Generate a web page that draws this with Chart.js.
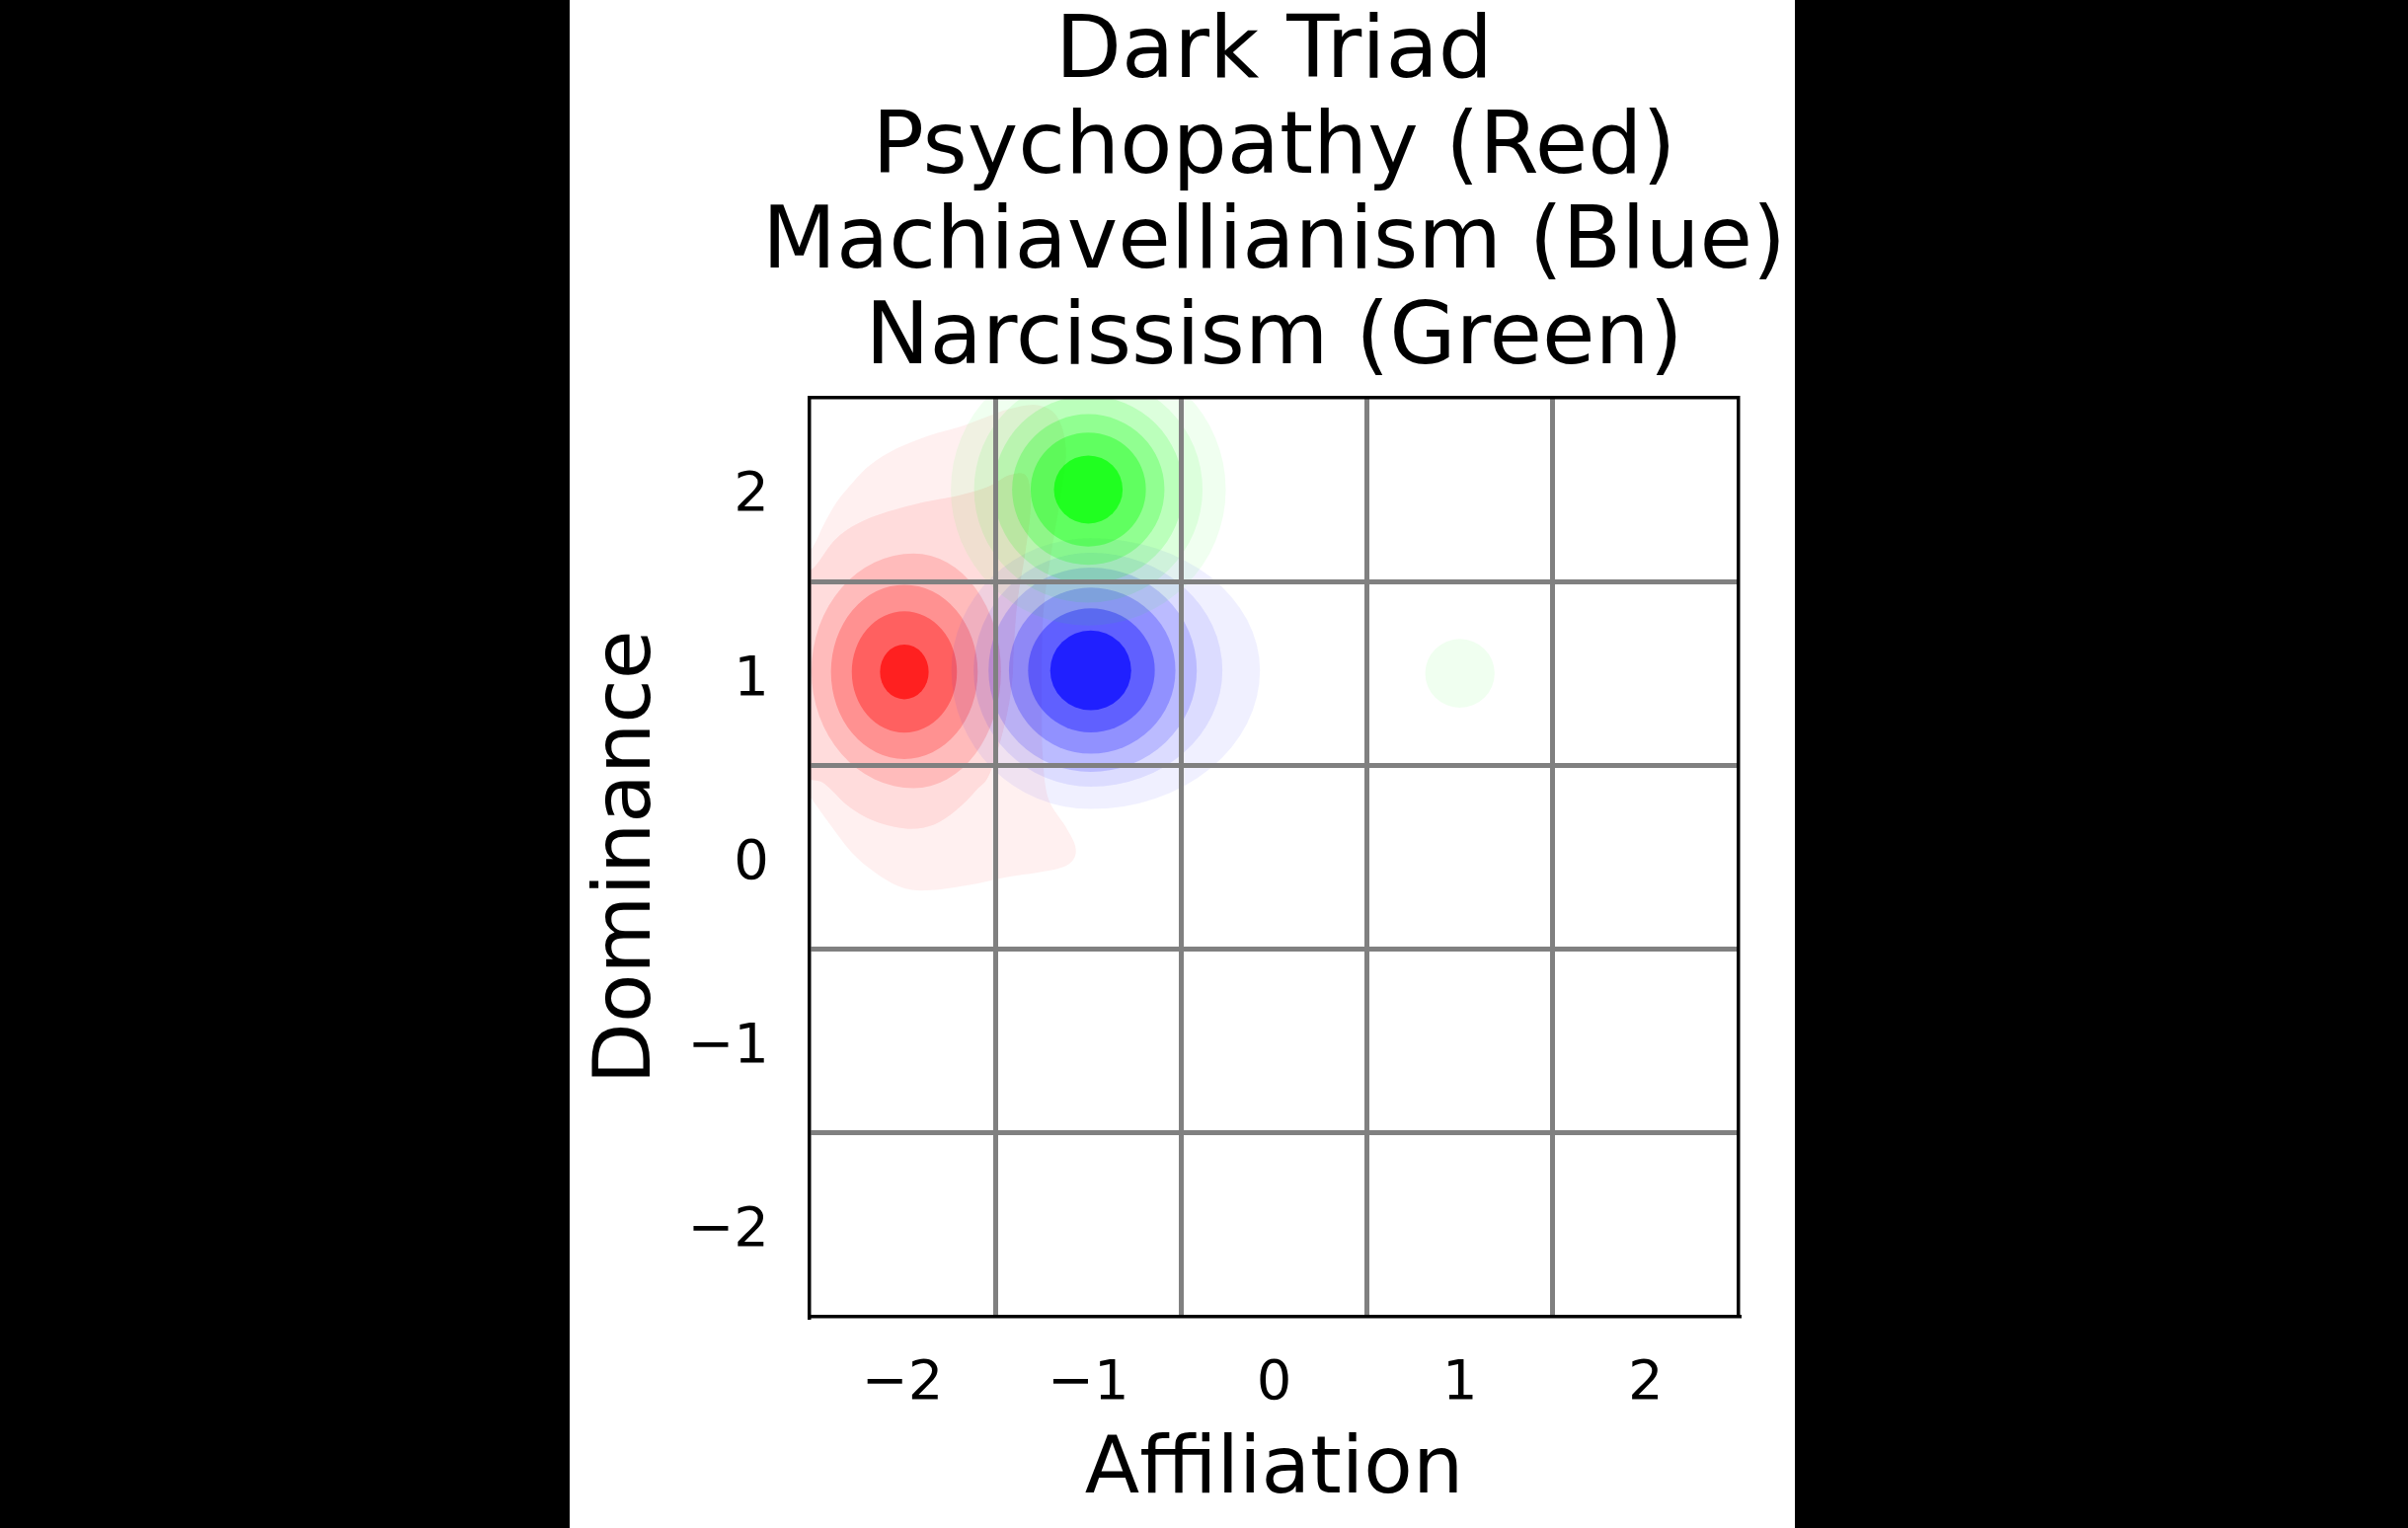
<!DOCTYPE html>
<html>
<head>
<meta charset="utf-8">
<script src="https://cdn.jsdelivr.net/npm/chart.js@4.4.0/dist/chart.umd.min.js"></script>
<style>
html,body{margin:0;padding:0;background:#000;width:2439px;height:1548px;overflow:hidden;}
#panel{position:absolute;left:577px;top:0;width:1241px;height:1548px;background:#fff;}
#wrap{position:absolute;left:577px;top:0;width:1427px;height:1548px;}
</style>
</head>
<body>
<div id="panel"></div>
<div id="wrap"><canvas id="c"></canvas></div>
<script>
// ---------- data ----------
const chartTitle = 'Dark Triad';
const traits = ['Psychopathy', 'Machiavellianism', 'Narcissism'];
const traitColorNames = ['Red', 'Blue', 'Green'];
const traitCenters = [[-1.99, 1.01], [-0.987, 1.016], [-1.0, 2.0]];
const xTickValues = [-2, -1, 0, 1, 2];
const yTickValues = [-2, -1, 0, 1, 2];
const gridValues = [-1.5, -0.5, 0.5, 1.5];
const axisRange = [-2.5, 2.5];
const xAxisLabel = 'Affiliation';
const yAxisLabel = 'Dominance';
// cumulative opacity of each density level (lowest -> highest)
const levelOpacity = [0.06, 0.14, 0.27, 0.435, 0.625, 0.875];

// density contours, level 1 (lowest) ... level 6 (highest)
// ellipse: [cx, cy, rLeft, rRight, rUp, rDown]; outline: list of [x, y]
const psychopathyOutline1 = [[-2.62, 1.50], [-2.485, 1.684], [-2.423, 1.810], [-2.352, 1.935], [-2.264, 2.043],
  [-2.175, 2.133], [-2.034, 2.222], [-1.857, 2.294], [-1.698, 2.339], [-1.557, 2.392], [-1.42, 2.44],
  [-1.28, 2.46], [-1.17, 2.40], [-1.12, 2.22], [-1.15, 1.95], [-1.20, 1.65], [-1.24, 1.35], [-1.25, 1.05],
  [-1.25, 0.80], [-1.245, 0.55], [-1.215, 0.32], [-1.123, 0.168], [-1.070, 0.061], [-1.079, -0.011],
  [-1.141, -0.056], [-1.265, -0.082], [-1.442, -0.109], [-1.654, -0.154], [-1.866, -0.181], [-2.008, -0.163],
  [-2.149, -0.082], [-2.273, 0.025], [-2.397, 0.187], [-2.485, 0.312], [-2.62, 0.50]];
const psychopathyOutline2 = [[-2.62, 1.45], [-2.476, 1.577], [-2.352, 1.738], [-2.175, 1.846], [-1.910, 1.926],
  [-1.698, 1.968], [-1.539, 2.016], [-1.42, 2.08], [-1.33, 2.07], [-1.31, 1.90], [-1.34, 1.65], [-1.38, 1.40],
  [-1.40, 1.15], [-1.41, 0.95], [-1.45, 0.72], [-1.530, 0.455], [-1.601, 0.366], [-1.707, 0.258],
  [-1.830, 0.177], [-1.972, 0.154], [-2.149, 0.195], [-2.290, 0.276], [-2.42, 0.40], [-2.62, 0.55]];
const psychopathyLevels = [
  [psychopathyOutline1],
  [psychopathyOutline2],
  [[-1.94, 1.012, 0.55, 0.47, 0.64, 0.637]],
  [[-1.99, 1.008, 0.395, 0.395, 0.474, 0.474]],
  [[-1.99, 1.008, 0.283, 0.283, 0.33, 0.33]],
  [[-1.99, 1.008, 0.131, 0.131, 0.149, 0.149]]
];
const machiavellianismLevels = [
  [[-0.987, 1.016, 0.75, 0.911, 0.72, 0.754]],
  [[-0.987, 1.016, 0.63, 0.709, 0.64, 0.633]],
  [[-0.987, 1.016, 0.55, 0.571, 0.56, 0.552]],
  [[-0.987, 1.016, 0.44, 0.456, 0.45, 0.453]],
  [[-0.987, 1.016, 0.337, 0.345, 0.338, 0.337]],
  [[-0.987, 1.016, 0.218, 0.218, 0.217, 0.217]]
];
const narcissismLevels = [
  [[-1.0, 2.0, 0.74, 0.74, 0.74, 0.74], [1.0, 1.0, 0.187, 0.187, 0.187, 0.187]],
  [[-1.0, 2.0, 0.615, 0.615, 0.615, 0.615]],
  [[-1.0, 2.0, 0.51, 0.51, 0.51, 0.51]],
  [[-1.0, 2.0, 0.41, 0.41, 0.41, 0.41]],
  [[-1.0, 2.0, 0.31, 0.31, 0.31, 0.31]],
  [[-1.0, 2.0, 0.185, 0.185, 0.185, 0.185]]
];
const traitLevels = [psychopathyLevels, machiavellianismLevels, narcissismLevels];

// ---------- styles ----------
const FONT = "'DejaVu Sans', 'Liberation Sans', sans-serif";
const traitRGB = ['255,0,0', '0,0,255', '0,255,0'];
const gridColor = '#808080';

function fmt(v) { return v < 0 ? '\u2212' + Math.abs(v) : String(v); }

function tracePath(ctx, xs, ys, shape) {
  if (Array.isArray(shape[0])) {
    const p = shape.map(([x, y]) => [xs.getPixelForValue(x), ys.getPixelForValue(y)]);
    const n = p.length;
    ctx.moveTo(p[0][0], p[0][1]);
    for (let i = 0; i < n; i++) {
      const p0 = p[(i - 1 + n) % n], p1 = p[i], p2 = p[(i + 1) % n], p3 = p[(i + 2) % n];
      ctx.bezierCurveTo(p1[0] + (p2[0] - p0[0]) / 6, p1[1] + (p2[1] - p0[1]) / 6,
                        p2[0] - (p3[0] - p1[0]) / 6, p2[1] - (p3[1] - p1[1]) / 6,
                        p2[0], p2[1]);
    }
    ctx.closePath();
  } else {
    const [cx, cy, rl, rr, ru, rd] = shape;
    const px = xs.getPixelForValue(cx), py = ys.getPixelForValue(cy);
    const L = Math.abs(px - xs.getPixelForValue(cx - rl));
    const R = Math.abs(xs.getPixelForValue(cx + rr) - px);
    const U = Math.abs(py - ys.getPixelForValue(cy + ru));
    const D = Math.abs(ys.getPixelForValue(cy - rd) - py);
    ctx.moveTo(px + R, py);
    ctx.ellipse(px, py, R, D, 0, 0, Math.PI / 2);
    ctx.ellipse(px, py, L, D, 0, Math.PI / 2, Math.PI);
    ctx.ellipse(px, py, L, U, 0, Math.PI, Math.PI * 1.5);
    ctx.ellipse(px, py, R, U, 0, Math.PI * 1.5, Math.PI * 2);
    ctx.closePath();
  }
}

const kdePlugin = {
  id: 'kdeContours',
  beforeDraw(chart) {
    const {ctx, chartArea: a} = chart;
    const xs = chart.scales.x, ys = chart.scales.y;
    ctx.save();
    ctx.beginPath();
    ctx.rect(a.left, a.top, a.right - a.left, a.bottom - a.top);
    ctx.clip();
    traitLevels.forEach((levels, t) => {
      levels.forEach((shapes, k) => {
        const prev = k === 0 ? 0 : levelOpacity[k - 1];
        const alpha = 1 - (1 - levelOpacity[k]) / (1 - prev);
        ctx.fillStyle = 'rgba(' + traitRGB[t] + ',' + alpha.toFixed(4) + ')';
        shapes.forEach(shape => {
          ctx.beginPath();
          tracePath(ctx, xs, ys, shape);
          ctx.fill();
        });
      });
    });
    ctx.restore();
  }
};

const datasets = traits.map((t, i) => ({
  label: t + ' (' + traitColorNames[i] + ')',
  data: [{x: traitCenters[i][0], y: traitCenters[i][1]}],
  pointRadius: 0,
  pointHoverRadius: 0,
  showLine: false
}));

const allTicks = (vals) => vals.concat(gridValues).sort((a, b) => a - b).map(v => ({value: v}));
const gridColorFn = (c) => (c.tick && gridValues.includes(c.tick.value)) ? gridColor : 'rgba(0,0,0,0)';

new Chart(document.getElementById('c'), {
  type: 'scatter',
  data: {datasets},
  plugins: [kdePlugin],
  options: {
    responsive: true,
    maintainAspectRatio: false,
    animation: false,
    layout: {padding: 0},
    plugins: {
      legend: {display: false},
      tooltip: {enabled: false},
      title: {
        display: true,
        text: [chartTitle].concat(traits.map((t, i) => t + ' (' + traitColorNames[i] + ')')),
        color: '#000',
        font: {family: FONT, size: 87, weight: 'normal', lineHeight: 1.1115},
        padding: {top: 7, bottom: 9}
      }
    },
    scales: {
      x: {
        type: 'linear', position: 'bottom', min: axisRange[0], max: axisRange[1],
        afterBuildTicks: s => { s.ticks = allTicks(xTickValues); },
        afterFit: s => { s.height = 214; },
        ticks: {
          autoSkip: false, maxRotation: 0, color: '#000', padding: 35,
          font: {family: FONT, size: 56},
          callback: v => xTickValues.includes(v) ? fmt(v) : ''
        },
        grid: {color: gridColorFn, lineWidth: 5, drawTicks: false},
        border: {display: true, color: '#000', width: 3.5},
        title: {display: true, text: xAxisLabel, color: '#000',
                font: {family: FONT, size: 81}, padding: {top: 0, bottom: 8}}
      },
      y: {
        type: 'linear', position: 'left', min: axisRange[0], max: axisRange[1],
        afterBuildTicks: s => { s.ticks = allTicks(yTickValues); },
        afterFit: s => { s.width = 243; },
        ticks: {
          autoSkip: false, color: '#000', padding: 41, labelOffset: 7,
          font: {family: FONT, size: 56},
          callback: v => yTickValues.includes(v) ? fmt(v) : ''
        },
        grid: {color: gridColorFn, lineWidth: 5, drawTicks: false},
        border: {display: true, color: '#000', width: 3.5},
        title: {display: true, text: yAxisLabel, color: '#000',
                font: {family: FONT, size: 81}, padding: {top: 11, bottom: 0}}
      },
      x2: {
        type: 'linear', position: 'top', min: axisRange[0], max: axisRange[1],
        afterFit: s => { s.height = 0; },
        grid: {display: false}, ticks: {display: false},
        border: {display: true, color: '#000', width: 3.5}
      },
      y2: {
        type: 'linear', position: 'right', min: axisRange[0], max: axisRange[1],
        afterFit: s => { s.width = 243; },
        grid: {display: false}, ticks: {display: false},
        border: {display: true, color: '#000', width: 3.5}
      }
    }
  }
});
</script>
</body>
</html>
